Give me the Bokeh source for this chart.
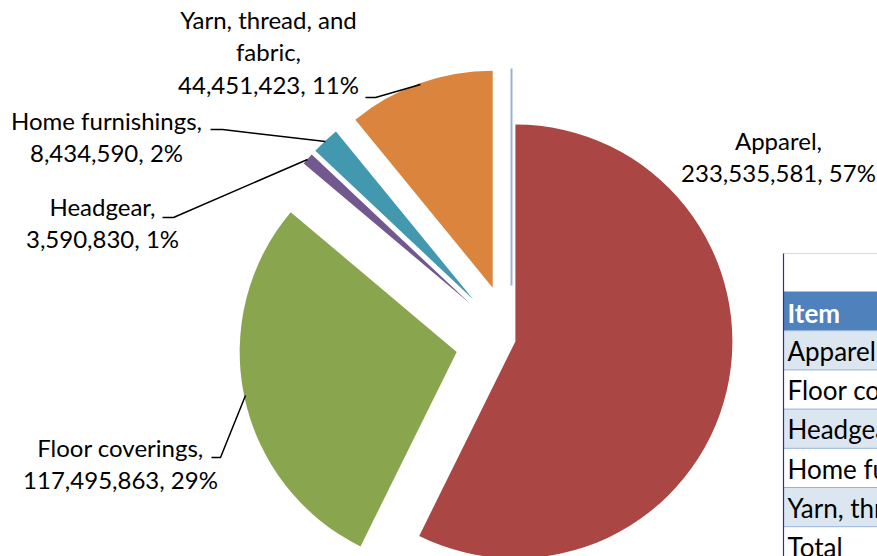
import math
from bokeh.plotting import figure
from bokeh.models import Range1d
from bokeh.core.properties import value
from bokeh.embed import file_html
from bokeh.resources import INLINE

# ---------------- data ----------------
categories = ["(blank)", "Apparel", "Floor coverings", "Headgear",
              "Home furnishings", "Yarn, thread, and fabric"]
values = [0, 233535581, 117495863, 3590830, 8434590, 44451423]
colors = ["#9AB3D5", "#AA4643", "#89A54E", "#71588F", "#4198AF", "#DB843D"]
explode = [55, 4, 56, 56, 56, 56]          # px offset of each slice
table_header = "Item"
table_items = ["Apparel", "Floor coverings", "Headgear",
               "Home furnishings", "Yarn, thread, and fabric", "Total"]

W, H = 877, 556
def Y(py):
    return H - py

p = figure(width=W, height=H, x_range=Range1d(0, W), y_range=Range1d(0, H),
           output_backend="svg", toolbar_location=None,
           x_axis_location=None, y_axis_location=None, min_border=0)
p.grid.visible = False
p.outline_line_color = None
p.background_fill_color = "white"
p.border_fill_color = "white"

FONT = value("Lato")
FS = "24px"
TSHIFT = 10  # svg baseline correction

# ---------------- pie ----------------
cx, cy = 511, 340
R = 217
total = sum(values)
cum = 0.0
for cat, v, col, d in zip(categories, values, colors, explode):
    t0 = cum / total * 360.0
    cum += v
    t1 = cum / total * 360.0
    mid = math.radians((t0 + t1) / 2)
    ox = cx + d * math.sin(mid)
    oy = cy - d * math.cos(mid)
    if v == 0:
        a = math.radians(90 - t0)
        p.segment(x0=[ox], y0=[Y(oy)], x1=[ox + R * math.cos(a)],
                  y1=[Y(oy) + R * math.sin(a)], line_color=col, line_width=2)
        continue
    p.wedge(x=[ox], y=[Y(oy)], radius=R,
            start_angle=math.radians(90 - t1), end_angle=math.radians(90 - t0),
            fill_color=col, line_color=None)

# ---------------- labels ----------------
label_pos = {  # centre x, baseline of first line (px from top)
    "Apparel": (778, 150),
    "Floor coverings": (120, 457),
    "Headgear": (102, 216),
    "Home furnishings": (106, 130),
    "Yarn, thread, and fabric": (268, 29),
}
leaders = {
    "Apparel": None,
    "Floor coverings": [(211, 457), (220, 457), (245, 395)],
    "Headgear": [(162, 217), (173, 217), (307, 159)],
    "Home furnishings": [(210, 129), (222, 129), (325, 141)],
    "Yarn, thread, and fabric": [(365, 97), (375, 97), (420, 84)],
}
LS = 32.3
for cat, v in zip(categories, values):
    if v == 0:
        continue
    pct = round(v / total * 100)
    if cat == "Yarn, thread, and fabric":
        lines = ["Yarn, thread, and", "fabric,"]
    else:
        lines = [cat + ","]
    lines.append(f"{v:,}, {pct}%")
    x0, b0 = label_pos[cat]
    p.text(x=[x0] * len(lines),
           y=[Y(b0 - TSHIFT + i * LS) for i in range(len(lines))],
           text=lines, text_align="center", text_baseline="alphabetic",
           text_font=FONT, text_font_size=FS, text_color="#000000")
    pts = leaders[cat]
    if pts:
        p.line(x=[q[0] for q in pts], y=[Y(q[1]) for q in pts],
               line_color="#000000", line_width=1.5)

# ---------------- table (partly visible) ----------------
TFS = "26px"
tx = 783
p.segment(x0=[tx], y0=[Y(253)], x1=[W], y1=[Y(253)], line_color="#D9D9D9", line_width=1)
row_top = 291
RH = 39.2
p.quad(left=[tx], right=[W], top=[Y(row_top)], bottom=[Y(row_top + RH)],
       fill_color="#4F81BD", line_color=None)
p.text(x=[tx + 4], y=[Y(row_top + RH - 8 - TSHIFT)], text=[table_header],
       text_font=FONT, text_font_size=TFS, text_font_style="bold",
       text_color="white", text_baseline="alphabetic")
for i, item in enumerate(table_items):
    top = row_top + RH * (i + 1)
    bot = top + RH
    fill = "#DCE6F1" if i % 2 == 0 else "white"
    p.quad(left=[tx], right=[W], top=[Y(top)], bottom=[Y(bot)],
           fill_color=fill, line_color=None)
    p.segment(x0=[tx], y0=[Y(top)], x1=[W], y1=[Y(top)],
              line_color="#95B3D7", line_width=1)
    p.text(x=[tx + 4], y=[Y(bot - 9 - TSHIFT)], text=[item],
           text_font=FONT, text_font_size=TFS, text_color="#000000",
           text_baseline="alphabetic")
p.segment(x0=[tx], y0=[Y(253)], x1=[tx], y1=[0], line_color="#2A2AC8", line_width=1.2)

open("out.html", "w").write(file_html(p, INLINE))
